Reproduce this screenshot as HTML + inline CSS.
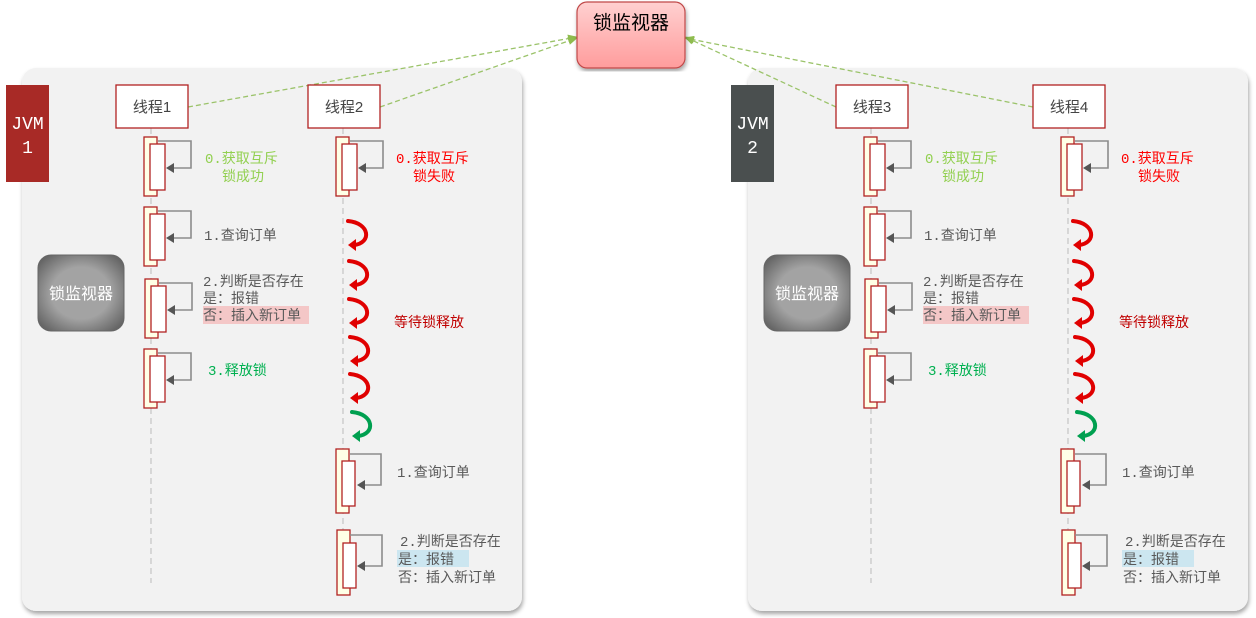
<!DOCTYPE html>
<html><head><meta charset="utf-8"><style>
html,body{margin:0;padding:0;background:#fff;width:1256px;height:618px;overflow:hidden}
text{font-family:"Liberation Sans","Noto Sans CJK SC",sans-serif}
.m{font-family:"Liberation Mono","Noto Sans CJK SC",monospace}
</style></head><body>
<svg width="1256" height="618" viewBox="0 0 1256 618" xmlns="http://www.w3.org/2000/svg">
<defs>
<filter id="sh" x="-5%" y="-5%" width="110%" height="110%"><feDropShadow dx="1" dy="3" stdDeviation="2" flood-color="#000" flood-opacity="0.35"/></filter>
<radialGradient id="gg" cx="50%" cy="50%" r="62%"><stop offset="0.55" stop-color="#a3a3a3"/><stop offset="1" stop-color="#666"/></radialGradient>
<linearGradient id="pg" x1="0" y1="0" x2="0" y2="1"><stop offset="0" stop-color="#ffd0d0"/><stop offset="1" stop-color="#ff9c9c"/></linearGradient>
<marker id="ga" markerWidth="10" markerHeight="8" refX="9" refY="4" orient="auto" markerUnits="userSpaceOnUse"><path d="M0,0 L10,4 L0,8 z" fill="#8fbc4f"/></marker>
<g id="loopA">
<rect x="0" y="0" width="13" height="59" fill="#ffffe6" stroke="#b22222" stroke-width="1.3"/>
<rect x="6" y="7" width="15" height="46" fill="#fff" stroke="#b22222" stroke-width="1.3"/>
<path d="M14,4 H47 V31 H26" fill="none" stroke="#8c8c8c" stroke-width="1.6"/>
<path d="M22,31 L30,26 L30,36 z" fill="#555"/>
</g>
<g id="cr">
<path d="M0,0 C22,2 24,22 6,24" fill="none" stroke="#e00000" stroke-width="4" stroke-linecap="round"/>
<path d="M0,24 L8,18 L8,30 z" fill="#e00000"/>
</g>
<g id="cg">
<path d="M0,0 C22,2 24,22 6,24" fill="none" stroke="#00a050" stroke-width="4" stroke-linecap="round"/>
<path d="M0,24 L8,18 L8,30 z" fill="#00a050"/>
</g>
<g id="panel"><rect x="22" y="68" width="500" height="543" rx="14" fill="#f2f2f2" filter="url(#sh)"/></g>
<g id="gmon"><rect x="38" y="255" width="86" height="76" rx="13" fill="url(#gg)" stroke="#666" stroke-width="1"/>
<text x="81" y="299" font-size="16" fill="#fff" text-anchor="middle">锁监视器</text></g>
<g id="colS">
<line x1="151" y1="128" x2="151" y2="583" stroke="#c8c8c8" stroke-width="1.3" stroke-dasharray="6,4"/>
<use href="#loopA" x="144" y="137"/>
<use href="#loopA" x="144" y="207"/>
<use href="#loopA" x="145" y="279"/>
<use href="#loopA" x="144" y="349"/>
<text class="m" x="205" y="163" font-size="14" fill="#92d050">0.获取互斥</text>
<text x="222" y="181" font-size="14" fill="#92d050">锁成功</text>
<text class="m" x="204" y="240" font-size="14" fill="#595959">1.查询订单</text>
<text class="m" x="203" y="286" font-size="14" fill="#595959">2.判断是否存在</text>
<text x="203" y="303" font-size="14" fill="#595959">是：报错</text>
<rect x="203" y="306" width="106" height="18" fill="#f4c7c7"/>
<text x="203" y="320" font-size="14" fill="#595959">否：插入新订单</text>
<text class="m" x="208" y="375" font-size="14" fill="#00b050">3.释放锁</text>
</g>
<g id="colF">
<line x1="343" y1="128" x2="343" y2="595" stroke="#c8c8c8" stroke-width="1.3" stroke-dasharray="6,4"/>
<use href="#loopA" x="336" y="137"/>
<text class="m" x="396" y="163" font-size="14" fill="#ff0000">0.获取互斥</text>
<text x="413" y="181" font-size="14" fill="#ff0000">锁失败</text>
<use href="#cr" x="348" y="221"/>
<use href="#cr" x="349" y="261"/>
<use href="#cr" x="349" y="299"/>
<use href="#cr" x="350" y="337"/>
<use href="#cr" x="350" y="374"/>
<use href="#cg" x="352" y="412"/>
<text x="394" y="327" font-size="14" fill="#c00000">等待锁释放</text>
<rect x="336" y="449" width="13" height="64" fill="#ffffe6" stroke="#b22222" stroke-width="1.3"/>
<rect x="342" y="461" width="13" height="45" fill="#fff" stroke="#b22222" stroke-width="1.3"/>
<path d="M350,454 H381 V485 H362" fill="none" stroke="#8c8c8c" stroke-width="1.6"/>
<path d="M357,485 L365,480 L365,490 z" fill="#555"/>
<text class="m" x="397" y="477" font-size="14" fill="#595959">1.查询订单</text>
<rect x="337" y="530" width="13" height="65" fill="#ffffe6" stroke="#b22222" stroke-width="1.3"/>
<rect x="343" y="543" width="13" height="45" fill="#fff" stroke="#b22222" stroke-width="1.3"/>
<path d="M350,535 H382 V566 H362" fill="none" stroke="#8c8c8c" stroke-width="1.6"/>
<path d="M357,566 L365,561 L365,571 z" fill="#555"/>
<text class="m" x="400" y="546" font-size="14" fill="#595959">2.判断是否存在</text>
<rect x="397" y="550" width="72" height="17" fill="#cce6f0"/>
<text x="398" y="564" font-size="14" fill="#595959">是：报错</text>
<text x="398" y="582" font-size="14" fill="#595959">否：插入新订单</text>
</g>
</defs>

<use href="#panel"/>
<use href="#panel" x="726"/>

<line x1="188" y1="107" x2="577" y2="37" stroke="#9bc36a" stroke-width="1.3" stroke-dasharray="5,3" marker-end="url(#ga)"/>
<line x1="380" y1="107" x2="577" y2="38" stroke="#9bc36a" stroke-width="1.3" stroke-dasharray="5,3" marker-end="url(#ga)"/>
<line x1="836" y1="107" x2="685" y2="37" stroke="#9bc36a" stroke-width="1.3" stroke-dasharray="5,3" marker-end="url(#ga)"/>
<line x1="1033" y1="107" x2="685" y2="38" stroke="#9bc36a" stroke-width="1.3" stroke-dasharray="5,3" marker-end="url(#ga)"/>

<rect x="577" y="2" width="108" height="66" rx="10" fill="url(#pg)" stroke="#c04848" stroke-width="1.2" filter="url(#sh)"/>
<text x="631" y="29" font-size="19" fill="#000" text-anchor="middle">锁监视器</text>

<rect x="6" y="85" width="43" height="97" fill="#a82a26"/>
<text class="m" x="27.5" y="129" font-size="18" fill="#fff" text-anchor="middle">JVM</text>
<text class="m" x="27.5" y="153" font-size="18" fill="#fff" text-anchor="middle">1</text>
<rect x="731" y="85" width="43" height="97" fill="#4a4f4f"/>
<text class="m" x="752.5" y="129" font-size="18" fill="#fff" text-anchor="middle">JVM</text>
<text class="m" x="752.5" y="153" font-size="18" fill="#fff" text-anchor="middle">2</text>

<use href="#gmon"/>
<use href="#gmon" x="726"/>

<use href="#colS"/>
<use href="#colS" x="720"/>
<use href="#colF"/>
<use href="#colF" x="725"/>

<rect x="116" y="85" width="72" height="43" fill="#fff" stroke="#b22222" stroke-width="1.3"/>
<text x="152" y="112" font-size="15" fill="#444" text-anchor="middle">线程1</text>
<rect x="308" y="85" width="72" height="43" fill="#fff" stroke="#b22222" stroke-width="1.3"/>
<text x="344" y="112" font-size="15" fill="#444" text-anchor="middle">线程2</text>
<rect x="836" y="85" width="72" height="43" fill="#fff" stroke="#b22222" stroke-width="1.3"/>
<text x="872" y="112" font-size="15" fill="#444" text-anchor="middle">线程3</text>
<rect x="1033" y="85" width="72" height="43" fill="#fff" stroke="#b22222" stroke-width="1.3"/>
<text x="1069" y="112" font-size="15" fill="#444" text-anchor="middle">线程4</text>
</svg>
</body></html>
